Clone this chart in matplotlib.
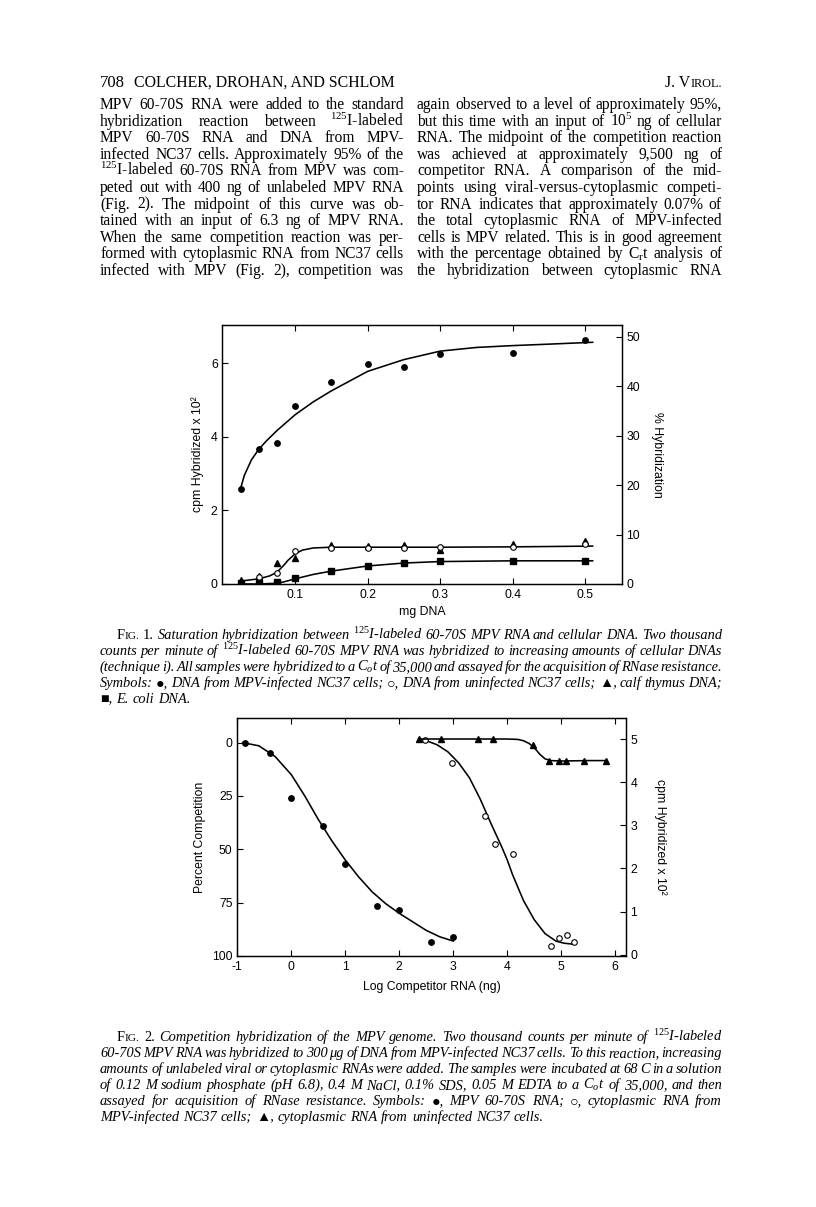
import matplotlib
matplotlib.use('Agg')
import matplotlib.pyplot as plt

W, H = 816, 1207
SERIF = ['Liberation Serif', 'DejaVu Serif']
SANS = ['Liberation Sans', 'DejaVu Sans']
plt.rcParams['mathtext.fontset'] = 'custom'
plt.rcParams['mathtext.rm'] = 'Liberation Serif'
plt.rcParams['mathtext.it'] = 'Liberation Serif:italic'
plt.rcParams['axes.linewidth'] = 0.9

# ---- Fig. 1 data (mg DNA vs cpm hybridized x 10^2)
dna_mg = [0.025, 0.05, 0.075, 0.1, 0.15, 0.2, 0.25, 0.3, 0.4, 0.5]
mpv_nc37 = [2.57, 3.66, 3.84, 4.84, 5.50, 5.97, 5.89, 6.26, 6.27, 6.64]
uninf_nc37 = [0.04, 0.18, 0.30, 0.90, 0.97, 0.97, 0.98, 1.00, 1.00, 1.08]
calf_thymus = [0.12, 0.22, 0.58, 0.70, 1.05, 1.03, 1.07, 0.92, 1.10, 1.18]
e_coli = [0.02, 0.03, 0.05, 0.17, 0.36, 0.50, 0.58, 0.62, 0.63, 0.63]

# hand drawn curves
fit_mpv_x = [0.025, 0.03, 0.04, 0.05, 0.06, 0.075, 0.1, 0.125, 0.15, 0.2, 0.25, 0.3, 0.35, 0.4, 0.45, 0.51]
fit_mpv_y = [2.60, 2.95, 3.38, 3.66, 3.88, 4.17, 4.60, 4.95, 5.25, 5.78, 6.10, 6.33, 6.43, 6.48, 6.52, 6.57]
fit_ctl_x = [0.025, 0.05, 0.065, 0.075, 0.085, 0.09, 0.1, 0.11, 0.125, 0.15, 0.2, 0.3, 0.4, 0.51]
fit_ctl_y = [0.08, 0.14, 0.22, 0.32, 0.52, 0.64, 0.82, 0.92, 0.98, 1.00, 1.00, 1.00, 1.01, 1.03]
fit_eco_x = [0.025, 0.05, 0.075, 0.085, 0.1, 0.125, 0.15, 0.2, 0.25, 0.3, 0.4, 0.51]
fit_eco_y = [0.00, 0.00, 0.02, 0.06, 0.14, 0.26, 0.35, 0.49, 0.57, 0.61, 0.63, 0.63]

# ---- Fig. 2 data (log competitor RNA)
log_viral = [-0.86, -0.4, 0.0, 0.59, 0.99, 1.59, 1.99, 2.58, 2.99]
comp_viral = [0.3, 4.7, 25.8, 39.1, 56.7, 76.7, 78.4, 93.3, 90.9]
log_cyto_inf = [2.47, 2.98, 3.58, 3.77, 4.1, 4.81, 4.95, 5.1, 5.23]
comp_cyto_inf = [-1.0, 9.7, 34.4, 47.7, 52.3, 95.2, 91.4, 90.3, 93.3]
log_cyto_uninf = [2.37, 2.77, 3.45, 3.73, 4.47, 4.77, 4.96, 5.09, 5.43, 5.83]
cpm_cyto_uninf = [5.0, 5.0, 5.0, 5.0, 4.86, 4.49, 4.49, 4.49, 4.5, 4.5]

fit_viral_x = [-0.9, -0.6, -0.3, 0, 0.25, 0.5, 0.75, 1.0, 1.25, 1.5, 1.75, 2.0, 2.25, 2.5, 2.75, 3.0]
fit_viral_y = [0, 1.5, 6.5, 15, 25, 36, 46, 55, 63, 70, 75.5, 80, 84, 88, 91, 93]
fit_inf_x = [2.47, 2.7, 2.9, 3.1, 3.3, 3.5, 3.7, 3.9, 4.0, 4.1, 4.3, 4.5, 4.7, 4.9, 5.05, 5.2]
fit_inf_y = [-1.2, 1.0, 4.3, 9.5, 16.5, 26.5, 38, 49, 55, 62, 74, 83, 89.5, 93, 94, 94.4]
fit_uninf_x = [2.37, 3.0, 3.5, 4.0, 4.2, 4.3, 4.4, 4.5, 4.6, 4.7, 4.8, 5.0, 5.5, 5.85]
fit_uninf_y = [5.0, 5.0, 5.0, 5.0, 4.99, 4.96, 4.9, 4.8, 4.65, 4.54, 4.5, 4.49, 4.5, 4.5]

header_left = '708'
header_mid = 'COLCHER, DROHAN, AND SCHLOM'

col_left = [
    'MPV 60-70S RNA were added to the standard',
    'hybridization reaction between $^{125}$I-labeled',
    'MPV 60-70S RNA and DNA from MPV-',
    'infected NC37 cells. Approximately 95% of the',
    '$^{125}$I-labeled 60-70S RNA from MPV was com-',
    'peted out with 400 ng of unlabeled MPV RNA',
    '(Fig. 2). The midpoint of this curve was ob-',
    'tained with an input of 6.3 ng of MPV RNA.',
    'When the same competition reaction was per-',
    'formed with cytoplasmic RNA from NC37 cells',
    'infected with MPV (Fig. 2), competition was',
]
col_right = [
    'again observed to a level of approximately 95%,',
    'but this time with an input of 10$^5$ ng of cellular',
    'RNA. The midpoint of the competition reaction',
    'was achieved at approximately 9,500 ng of',
    'competitor RNA. A comparison of the mid-',
    'points using viral-versus-cytoplasmic competi-',
    'tor RNA indicates that approximately 0.07% of',
    'the total cytoplasmic RNA of MPV-infected',
    'cells is MPV related. This is in good agreement',
    'with the percentage obtained by C$_\\mathrm{r}$t analysis of',
    'the hybridization between cytoplasmic RNA',
]
cap1 = [
    '#F|IG. |1. Saturation hybridization between $^{125}$I-labeled 60-70S MPV RNA and cellular DNA. Two thousand',
    'counts per minute of $^{125}$I-labeled 60-70S MPV RNA was hybridized to increasing amounts of cellular DNAs',
    '(technique i). All samples were hybridized to a C$_o$t of 35,000 and assayed for the acquisition of RNase resistance.',
    'Symbols: \u25cf, DNA from MPV-infected NC37 cells; \u25cb, DNA from uninfected NC37 cells; \u25b2, calf thymus DNA;',
    '\u25a0, E. coli DNA.',
]
cap2 = [
    '#F|IG. |2. Competition hybridization of the MPV genome. Two thousand counts per minute of $^{125}$I-labeled',
    '60-70S MPV RNA was hybridized to 300 \u03bcg of DNA from MPV-infected NC37 cells. To this reaction, increasing',
    'amounts of unlabeled viral or cytoplasmic RNAs were added. The samples were incubated at 68 C in a solution',
    'of 0.12 M sodium phosphate (pH 6.8), 0.4 M NaCl, 0.1% SDS, 0.05 M EDTA to a C$_o$t of 35,000, and then',
    'assayed for acquisition of RNase resistance. Symbols: \u25cf, MPV 60-70S RNA; \u25cb, cytoplasmic RNA from',
    'MPV-infected NC37 cells; \u25b2, cytoplasmic RNA from uninfected NC37 cells.',
]

fig = plt.figure(figsize=(W / 100, H / 100), dpi=100)
fig.patch.set_facecolor('white')
renderer = fig.canvas.get_renderer()


def fx(x):
    return x / W


def fy(y):
    return 1 - y / H


def put_line(line, x0, x1, y, size, italic, justify=True):
    # words placed one by one so that the line is justified like the page
    objs = []
    for tok in line.split(' '):
        style = 'italic' if italic else 'normal'
        if tok.startswith('#'):
            # small caps: first letter full size, rest smaller
            a, b = tok[1:].split('|')
            parts = [(a, size, 'normal'), (b, size * 0.78, 'normal')]
        elif tok.startswith('|'):
            parts = [(tok[1:], size, 'normal' if italic else 'italic')]
        else:
            parts = [(tok, size, style)]
        grp = []
        for s, sz, st in parts:
            grp.append(fig.text(0, fy(y), s, fontsize=sz, fontstyle=st,
                                family=SERIF, va='baseline', ha='left'))
        objs.append(grp)
    widths = [[t.get_window_extent(renderer).width for t in g] for g in objs]
    total = sum(sum(w) for w in widths)
    if justify and len(objs) > 1:
        gap = max((x1 - x0 - total) / (len(objs) - 1), size * 0.15)
    else:
        gap = size * 0.27 * 100 / 72
    x = x0
    for g, ws in zip(objs, widths):
        for t, w in zip(g, ws):
            t.set_x(fx(x))
            x += w
        x += gap


# ---- header
fig.text(fx(100), fy(87), header_left, fontsize=12, family=SERIF, va='baseline')
fig.text(fx(134), fy(87), header_mid, fontsize=11.4, family=SERIF, va='baseline')
t_irol = fig.text(fx(722), fy(87), 'IROL.', fontsize=8.8, family=SERIF, va='baseline', ha='right')
w_irol = t_irol.get_window_extent(renderer).width
fig.text(fx(722 - w_irol), fy(87), 'J. V', fontsize=11.4, family=SERIF, va='baseline', ha='right')

# ---- body text
for i, ln in enumerate(col_left):
    put_line(ln, 100, 404, 109 + i * 16.6, 11.2, False)
for i, ln in enumerate(col_right):
    put_line(ln, 417, 722, 109 + i * 16.6, 11.2, False)

# ---- captions
for i, ln in enumerate(cap1):
    put_line(ln, 117 if i == 0 else 100, 722, 639 + i * 16, 10.4, True, justify=(i < len(cap1) - 1))
for i, ln in enumerate(cap2):
    put_line(ln, 117 if i == 0 else 100, 722, 1041 + i * 16, 10.4, True, justify=(i < len(cap2) - 1))

tick_kw = dict(direction='in', length=4, width=0.8, labelsize=8.8, colors='black')
line_kw = dict(color='black', lw=1.15)

# ---- Fig. 1
ax1 = fig.add_axes([fx(222.5), fy(584), 399.2 / W, 259 / H])
ax1.plot(fit_mpv_x, fit_mpv_y, **line_kw)
ax1.plot(fit_ctl_x, fit_ctl_y, **line_kw)
ax1.plot(fit_eco_x, fit_eco_y, **line_kw)
ax1.plot(dna_mg, mpv_nc37, 'o', color='black', ms=3.9)
ax1.plot(dna_mg, calf_thymus, '^', color='black', ms=4.4)
ax1.plot(dna_mg, uninf_nc37, 'o', mfc='white', mec='black', mew=0.8, ms=4.0)
ax1.plot(dna_mg, e_coli, 's', color='black', ms=3.9)
ax1.set_xlim(0, 0.55)
ax1.set_ylim(0, 7.04)
ax1.set_xticks([0.1, 0.2, 0.3, 0.4, 0.5])
ax1.set_xticklabels(['0.1', '0.2', '0.3', '0.4', '0.5'], family=SANS)
ax1.set_yticks([0, 2, 4, 6])
ax1.set_yticklabels(['0', '2', '4', '6'], family=SANS)
ax1.tick_params(top=True, **tick_kw)
ax1.set_xlabel('mg DNA', fontsize=8.8, family=SANS, labelpad=4)
ax1.set_ylabel('cpm Hybridized x 10\u00b2', fontsize=8.8, family=SANS, labelpad=5)
ax1r = ax1.twinx()
ax1r.set_ylim(0, 52.37)
ax1r.set_yticks([0, 10, 20, 30, 40, 50])
ax1r.set_yticklabels(['0', '10', '20', '30', '40', '50'], family=SANS)
ax1r.tick_params(**tick_kw)
ax1r.set_ylabel('% Hybridization', fontsize=8.8, family=SANS, rotation=270, va='bottom', labelpad=8)

# ---- Fig. 2
ax2 = fig.add_axes([fx(237.3), fy(956), 388.2 / W, 237.7 / H])
ax2.plot(fit_viral_x, fit_viral_y, **line_kw)
ax2.plot(fit_inf_x, fit_inf_y, **line_kw)
ax2.plot(log_viral, comp_viral, 'o', color='black', ms=3.9)
ax2.plot(log_cyto_inf, comp_cyto_inf, 'o', mfc='white', mec='black', mew=0.8, ms=4.0)
ax2.set_xlim(-1, 6.19)
ax2.set_ylim(100, -11.4)
ax2.set_xticks([-1, 0, 1, 2, 3, 4, 5, 6])
ax2.set_xticklabels(['-1', '0', '1', '2', '3', '4', '5', '6'], family=SANS)
ax2.set_yticks([0, 25, 50, 75, 100])
ax2.set_yticklabels(['0', '25', '50', '75', '100'], family=SANS)
ax2.tick_params(top=True, **tick_kw)
ax2.set_xlabel('Log Competitor RNA (ng)', fontsize=8.8, family=SANS, labelpad=6)
ax2.set_ylabel('Percent Competition', fontsize=8.8, family=SANS, labelpad=4)
ax2r = ax2.twinx()
ax2r.plot(fit_uninf_x, fit_uninf_y, **line_kw)
ax2r.plot(log_cyto_uninf, cpm_cyto_uninf, '^', color='black', ms=4.4)
ax2r.set_ylim(-0.03, 5.48)
ax2r.set_yticks([0, 1, 2, 3, 4, 5])
ax2r.set_yticklabels(['0', '1', '2', '3', '4', '5'], family=SANS)
ax2r.tick_params(**tick_kw)
ax2r.set_ylabel('cpm Hybridized x 10\u00b2', fontsize=8.8, family=SANS, rotation=270, va='bottom', labelpad=12)

fig.savefig('out.png', dpi=100, facecolor='white')
